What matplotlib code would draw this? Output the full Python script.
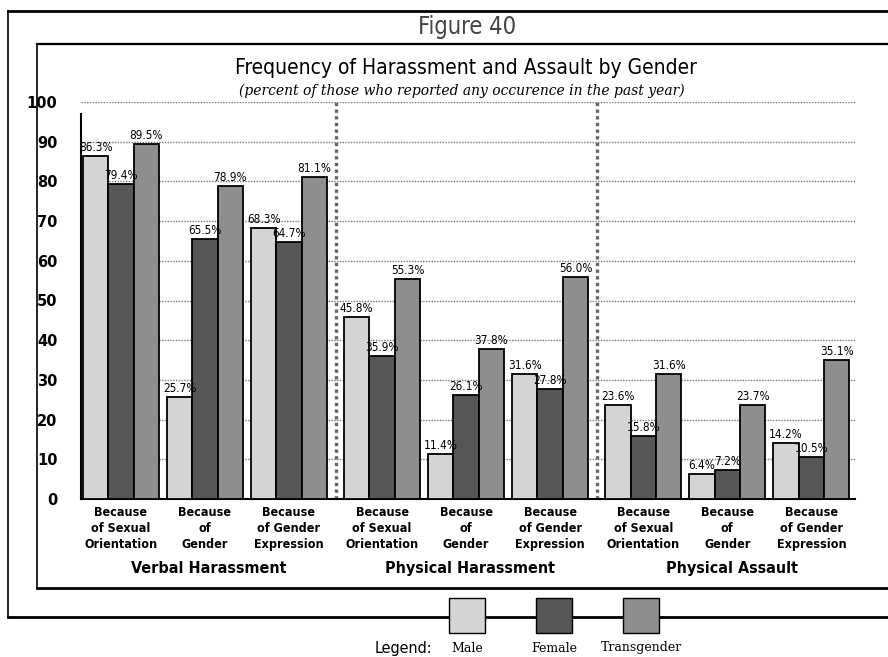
import matplotlib
matplotlib.use('Agg')
import matplotlib.pyplot as plt
from matplotlib.lines import Line2D
from matplotlib.patches import Rectangle
import numpy as np

W, H = 888, 657

# Data
sections = ['Verbal Harassment', 'Physical Harassment', 'Physical Assault']
reasons = ['Because\nof Sexual\nOrientation', 'Because\nof\nGender', 'Because\nof Gender\nExpression']
genders = ['Male', 'Female', 'Transgender']
male = [86.3, 25.7, 68.3, 45.8, 11.4, 31.6, 23.6, 6.4, 14.2]
female = [79.4, 65.5, 64.7, 35.9, 26.1, 27.8, 15.8, 7.2, 10.5]
transgender = [89.5, 78.9, 81.1, 55.3, 37.8, 56.0, 31.6, 23.7, 35.1]
yticks = [0, 10, 20, 30, 40, 50, 60, 70, 80, 90, 100]

colors = ['#d4d4d4', '#565656', '#8e8e8e']
cond = dict(family='DejaVu Sans', stretch='condensed')

def fx(x):
    return x / W

def fy(y):
    return 1 - y / H

fig = plt.figure(figsize=(W / 100, H / 100), dpi=100)
ax = fig.add_axes([fx(81), fy(499), fx(855) - fx(81), fy(102) - fy(499)])

# group positions: a small extra gap between the three sections
pos = np.array([s * 3.11 + g for s in range(3) for g in range(3)])
bw = 0.302
for k, vals in enumerate([male, female, transgender]):
    xs = pos + (k - 1) * bw
    ax.bar(xs, vals, width=bw, color=colors[k], edgecolor='black', linewidth=1.3, zorder=3)
    for x, v in zip(xs, vals):
        ax.text(x, v + 0.5, f'{v:.1f}%', ha='center', va='bottom', fontsize=8.5, zorder=4, **cond)

ax.set_xlim(-0.476, 8.74)
ax.set_ylim(0, 100)
ax.set_yticks(yticks)
ax.set_yticklabels([str(t) for t in yticks], fontsize=10.5, fontweight='bold')
ax.tick_params(axis='y', length=0, pad=17)
ax.set_xticks([])
for t in yticks[1:]:
    ax.axhline(t, color='#777777', linestyle=(0, (1, 1)), linewidth=1, zorder=1)
for xs in [2.555, 5.665]:
    ax.axvline(xs, color='#666666', linestyle=(0, (1, 1)), linewidth=2.4, zorder=1)
for side in ['top', 'right']:
    ax.spines[side].set_visible(False)
ax.spines['left'].set_linewidth(1.5)
ax.spines['bottom'].set_linewidth(1.5)
ax.spines['left'].set_bounds(0, 97)

# category labels under groups
for x, r in zip(pos, reasons * 3):
    ax.text(x, -1.8, r, ha='center', va='top', fontsize=9, fontweight='bold',
            linespacing=1.3, clip_on=False, **cond)
for s, name in enumerate(sections):
    ax.text(pos[s * 3 + 1] + 0.05, -15.6, name, ha='center', va='top', fontsize=11.5,
            fontweight='bold', clip_on=False, **cond)

# titles
fig.text(fx(467), fy(27), 'Figure 40', ha='center', va='center', fontsize=17, color='#444444', **cond)
fig.text(fx(466), fy(68), 'Frequency of Harassment and Assault by Gender', ha='center', va='center',
         fontsize=15, **cond)
fig.text(fx(462), fy(91), '(percent of those who reported any occurence in the past year)', ha='center',
         va='center', fontsize=10, style='italic', family='DejaVu Serif')

# frame lines
lines = [
    ([8, W], [11, 11], 2.0), ([8, 8], [11, 617], 1.2), ([8, W], [617, 617], 2.0),
    ([37, W], [44, 44], 1.6), ([37, 37], [44, 588], 1.2), ([37, W], [588, 588], 2.0),
]
for xs_, ys_, lw in lines:
    fig.add_artist(Line2D([fx(v) for v in xs_], [fy(v) for v in ys_], color='black', linewidth=lw, zorder=1))

# legend squares sitting on the bottom frame line
legend_x = [449, 536, 623]
for lx, c, g in zip(legend_x, colors, genders):
    fig.add_artist(Rectangle((fx(lx), fy(633)), fx(36), 35 / H, facecolor=c, edgecolor='black',
                             linewidth=1.0, transform=fig.transFigure, zorder=5))
    fig.text(fx(lx + 18), fy(648), g, ha='center', va='center', fontsize=9, family='DejaVu Serif')
fig.text(fx(403), fy(648), 'Legend:', ha='center', va='center', fontsize=11.5, **cond)

fig.savefig('out.png', dpi=100)
